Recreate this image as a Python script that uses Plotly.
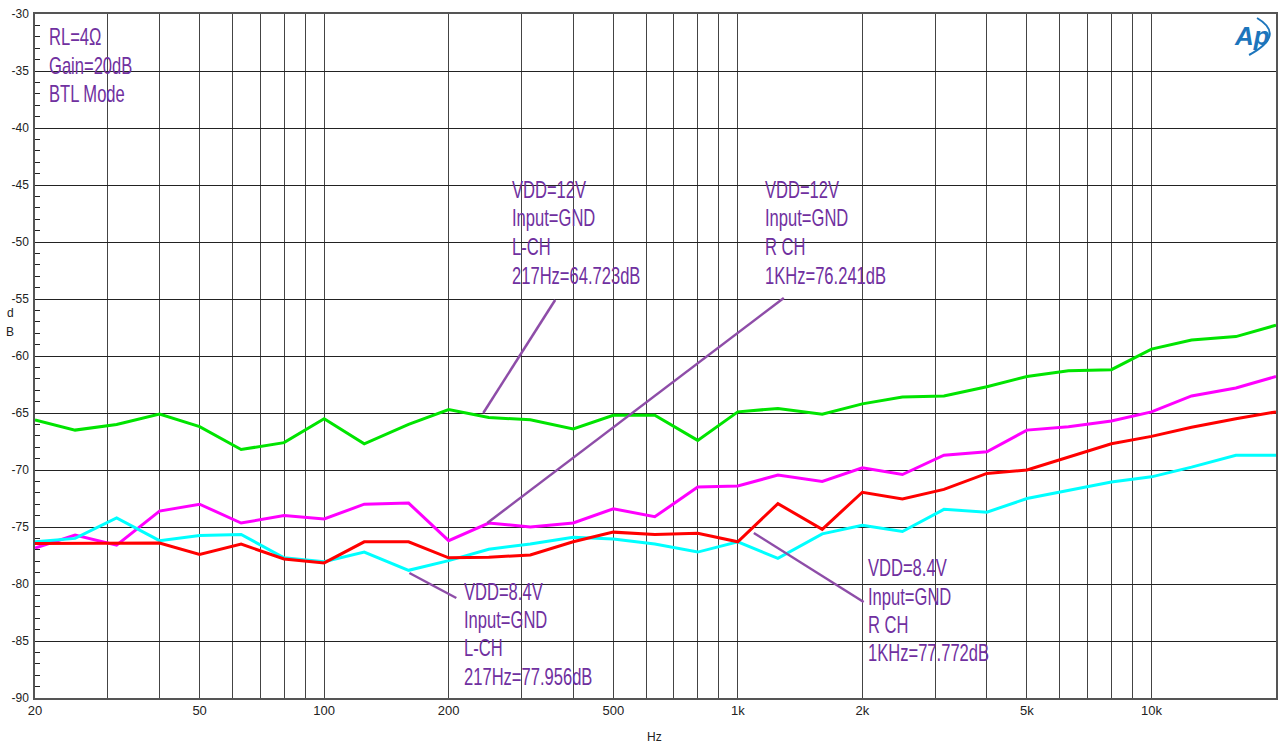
import math
import plotly.graph_objects as go

# 1/3-octave measurement frequencies (Hz)
freq = [20, 25, 31.5, 40, 50, 63, 80, 100, 125, 160, 200, 250, 315, 400, 500,
        630, 800, 1000, 1250, 1600, 2000, 2500, 3150, 4000, 5000, 6300, 8000,
        10000, 12500, 16000, 20000]

# Noise floor (dB) per channel / supply
vdd12_lch = [-65.6, -66.5, -66.0, -65.1, -66.2, -68.2, -67.6, -65.5, -67.7, -66.0,
             -64.7, -65.4, -65.6, -66.4, -65.2, -65.2, -67.4, -64.9, -64.6, -65.1,
             -64.2, -63.6, -63.5, -62.7, -61.8, -61.3, -61.2, -59.4, -58.6, -58.3,
             -57.3]
vdd12_rch = [-76.85, -75.7, -76.6, -73.6, -73.0, -74.65, -74.0, -74.3, -73.0, -72.9,
             -76.2, -74.65, -75.0, -74.65, -73.4, -74.1, -71.5, -71.4, -70.45, -71.0,
             -69.8, -70.4, -68.7, -68.4, -66.5, -66.2, -65.7, -64.9, -63.5, -62.8,
             -61.8]
vdd84_lch = [-76.3, -76.0, -74.2, -76.2, -75.75, -75.65, -77.7, -78.05, -77.2, -78.8,
             -77.95, -76.95, -76.5, -75.9, -76.05, -76.5, -77.2, -76.3, -77.75, -75.6,
             -74.85, -75.4, -73.45, -73.7, -72.5, -71.8, -71.05, -70.6, -69.75, -68.7,
             -68.7]
vdd84_rch = [-76.45, -76.45, -76.45, -76.4, -77.4, -76.5, -77.8, -78.15, -76.3, -76.3,
             -77.7, -77.65, -77.45, -76.3, -75.45, -75.65, -75.55, -76.3, -72.95, -75.2,
             -71.95, -72.55, -71.7, -70.3, -70.0, -68.9, -67.7, -67.05, -66.25, -65.5,
             -64.9]

x_tickvals = [20, 50, 100, 200, 500, 1000, 2000, 5000, 10000, 20000]
x_ticktext = ["20", "50", "100", "200", "500", "1k", "2k", "5k", "10k", "20k"]
y_tickvals = [-30, -35, -40, -45, -50, -55, -60, -65, -70, -75, -80, -85, -90]
y_ticktext = ["-30", "-35", "-40", "-45", "-50", "-55", "-60", "-65", "-70", "-75",
              "-80", "-85", "-90"]

# log grid at every 1..9 multiple of each decade
x_grid = [m * 10 ** d for d in range(1, 5) for m in range(1, 10)
          if 20 <= m * 10 ** d <= 20000]

W, H = 1284, 746
ML, MR, MT, MB = 35, 6, 14, 48
PW, PH = W - ML - MR, H - MT - MB


def px(x):
    return (x - ML) / PW


def py(y):
    return (H - MB - y) / PH


SANS = "Liberation Sans, Arial, sans-serif"
PURPLE = "#7030A0"
LEADER = "#8E4DA8"

fig = go.Figure()
series = [
    ("VDD=12V L-CH", vdd12_lch, "#00E400"),
    ("VDD=12V R-CH", vdd12_rch, "#FF00FF"),
    ("VDD=8.4V L-CH", vdd84_lch, "#00FFFF"),
    ("VDD=8.4V R-CH", vdd84_rch, "#FF0000"),
]
for name, vals, col in series:
    fig.add_trace(go.Scatter(x=freq, y=vals, mode="lines", name=name,
                             line=dict(color=col, width=3)))

shapes = []
annotations = []

# white label panels (hide the grid behind the text)
panels = [(37, 21, 140, 115), (509, 168, 645, 292), (755, 170, 900, 292),
          (458, 573, 600, 695), (858, 552, 997, 668)]
for x0, y0, x1, y1 in panels:
    shapes.append(dict(type="rect", xref="paper", yref="paper",
                       x0=px(x0), x1=px(x1), y0=py(y1), y1=py(y0),
                       fillcolor="white", line=dict(width=0), layer="between"))

# leader lines from labels to curves
leaders = [((556, 300), (484, 413)), ((785, 298), (488, 523)),
           ((410, 573), (457, 598)), ((755, 533), (865, 602))]
for (x0, y0), (x1, y1) in leaders:
    shapes.append(dict(type="line", xref="paper", yref="paper",
                       x0=px(x0), y0=py(y0), x1=px(x1), y1=py(y1),
                       line=dict(color=LEADER, width=2.5), layer="above"))

labels = [
    (47, [37, 66, 94], ["RL=4Ω", "Gain=20dB", "BTL Mode"]),
    (511, [190, 218, 247, 276], ["VDD=12V", "Input=GND", "L-CH", "217Hz=64.723dB"]),
    (764, [190, 218, 247, 276], ["VDD=12V", "Input=GND", "R CH", "1KHz=76.241dB"]),
    (463, [592, 620, 648, 677], ["VDD=8.4V", "Input=GND", "L-CH", "217Hz=77.956dB"]),
    (867, [568, 597, 625, 653], ["VDD=8.4V", "Input=GND", "R CH", "1KHz=77.772dB"]),
]
for x, ys, lines in labels:
    for y, t in zip(ys, lines):
        annotations.append(dict(text=t, xref="paper", yref="paper", x=px(x), y=py(y),
                                xanchor="left", yanchor="middle", showarrow=False,
                                font=dict(family=SANS, size=23, color=PURPLE)))

# axis titles
annotations.append(dict(text="Hz", xref="paper", yref="paper", x=px(655), y=py(737),
                        xanchor="center", yanchor="middle", showarrow=False,
                        font=dict(family=SANS, size=12, color="#222")))
for y, t in [(313, "d"), (332, "B")]:
    annotations.append(dict(text=t, xref="paper", yref="paper", x=px(10), y=py(y),
                            xanchor="center", yanchor="middle", showarrow=False,
                            font=dict(family=SANS, size=12, color="#222")))

# Ap logo
BLUE = "#1C75BC"
annotations.append(dict(text="<b><i>Ap</i></b>", xref="paper", yref="paper",
                        x=px(1254), y=py(36), xanchor="center", yanchor="middle",
                        showarrow=False,
                        font=dict(family=SANS, size=26, color=BLUE)))
shapes.append(dict(type="path", xref="paper", yref="paper",
                   path=f"M {px(1259)} {py(18)} Q {px(1288)} {py(35)} {px(1251)} {py(55)}",
                   line=dict(color=BLUE, width=2), layer="above"))

xtickfont = dict(family=SANS, size=13, color="#222")
ytickfont = dict(family=SANS, size=12, color="#222")
fig.update_layout(
    width=W, height=H, autosize=False,
    margin=dict(l=ML, r=MR, t=MT, b=MB),
    paper_bgcolor="white", plot_bgcolor="white",
    showlegend=False,
    shapes=shapes, annotations=annotations,
    xaxis=dict(type="log", range=[math.log10(20), math.log10(20000)],
               tickmode="array", tickvals=x_tickvals, ticktext=x_ticktext,
               tickfont=xtickfont, ticks="", showgrid=True, gridcolor="#444",
               gridwidth=1, minor=dict(tickvals=x_grid, showgrid=True,
                                       gridcolor="#444", gridwidth=1, ticks=""),
               showline=True, linecolor="#555", linewidth=1.5, mirror=True,
               zeroline=False),
    yaxis=dict(range=[-90, -30], tickmode="array", tickvals=y_tickvals,
               ticktext=y_ticktext, tickfont=ytickfont, ticks="inside", ticklen=5,
               tickcolor="#222", showgrid=True, gridcolor="#222", gridwidth=1,
               minor=dict(dtick=1, ticks="inside", ticklen=5, tickcolor="#222",
                          showgrid=False),
               showline=True, linecolor="#555", linewidth=1.5, mirror=True,
               zeroline=False, ticklabelstandoff=2),
)

# Narrow the purple label text horizontally (condensed look), keeping its left edge.
squeeze_js = """
var gd = document.getElementById('{plot_id}');
function squeezeLabels() {
  gd.querySelectorAll('g.annotation text.annotation-text').forEach(function (t) {
    if (t.getAttribute('data-sq') === '1') return;
    var fill = t.style.fill || '';
    if (fill.replace(/\\s/g, '').indexOf('112,48,160') < 0) return;
    var left = t.getBBox().x;
    t.setAttribute('transform', 'translate(' + left + ',0) scale(0.72,1) translate(' + (-left) + ',0)');
    t.setAttribute('data-sq', '1');
  });
}
squeezeLabels();
gd.on('plotly_afterplot', squeezeLabels);
"""

fig.write_html("out.html", post_script=squeeze_js)
